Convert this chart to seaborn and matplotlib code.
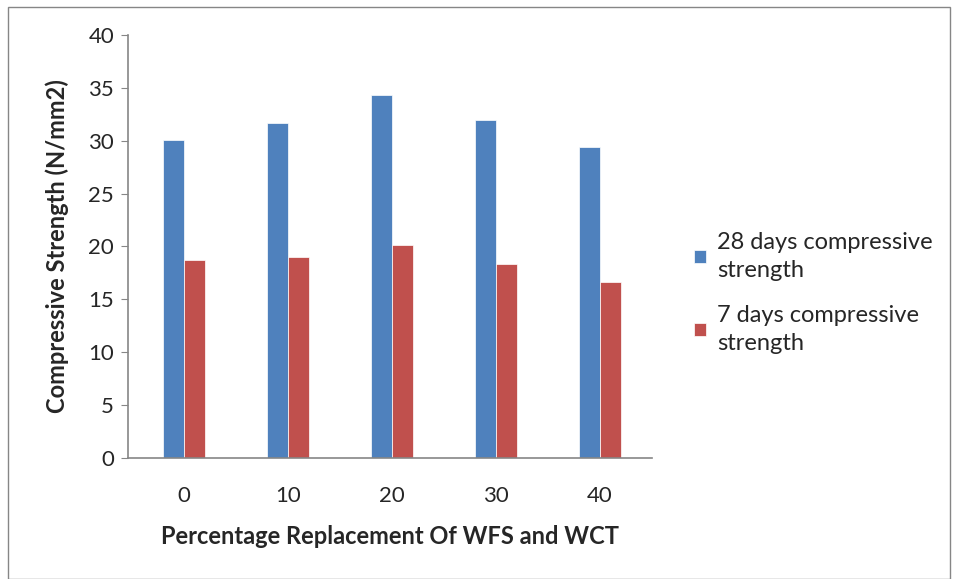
import pandas as pd
import matplotlib.pyplot as plt
import seaborn as sns
from matplotlib.patches import Rectangle

# data
replacement = ["0", "10", "20", "30", "40"]
strength_28d = [30.1, 31.7, 34.3, 32.0, 29.4]
strength_7d = [18.7, 19.0, 20.1, 18.3, 16.6]
series_names = ["28 days compressive\nstrength", "7 days compressive\nstrength"]
colors = ["#4F81BD", "#C0504D"]

df = pd.DataFrame({
    "Replacement": replacement * 2,
    "Strength": strength_28d + strength_7d,
    "Series": [series_names[0]] * len(replacement) + [series_names[1]] * len(replacement),
})

sns.set_style("white")
plt.rcParams["font.family"] = ["Lato", "DejaVu Sans"]

fig = plt.figure(figsize=(9.6, 5.79), dpi=100)
ax = fig.add_axes([0.1333, 0.209, 0.546, 0.7306])

sns.barplot(data=df, x="Replacement", y="Strength", hue="Series",
            palette=colors, width=0.4, saturation=1, ax=ax,
            edgecolor="white", linewidth=0.5)

ax.set_ylim(0, 40)
ax.set_xlim(-0.54, 4.5)
ax.set_yticks(range(0, 41, 5))
ax.tick_params(axis="y", direction="out", length=5, color="#868686", labelsize=16, pad=5, left=True)
ax.tick_params(axis="x", length=0, labelsize=16, pad=20)

for side in ["top", "right"]:
    ax.spines[side].set_visible(False)
for side in ["left", "bottom"]:
    ax.spines[side].set_color("#868686")
    ax.spines[side].set_linewidth(1.2)

ax.set_xlabel("Percentage Replacement Of WFS and WCT", fontsize=17, fontweight="bold", labelpad=14)
ax.set_ylabel("Compressive Strength (N/mm2)", fontsize=17, fontweight="bold", labelpad=14)

leg = ax.legend(loc="center left", bbox_to_anchor=(1.04, 0.39), frameon=False,
                fontsize=17, handlelength=0.5, handleheight=0.5, handletextpad=0.45,
                labelspacing=1.0)
for txt in leg.get_texts():
    txt.set_linespacing(1.45)

# thin grey border around the whole chart
fig.patches.append(Rectangle((0.008, 0.0), 0.982, 0.988, transform=fig.transFigure,
                             fill=False, edgecolor="#868686", linewidth=1))

fig.savefig("out.png", dpi=100)
